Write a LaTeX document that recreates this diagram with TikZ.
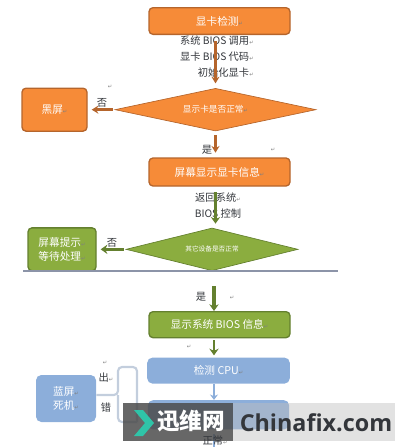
\documentclass[tikz,border=0pt]{standalone}
\usepackage{fontspec}
\setmainfont{Noto Sans CJK SC}
\newfontfamily\retfont{DejaVu Sans}
\newfontfamily\latinfont{Open Sans}
\usetikzlibrary{arrows.meta,positioning,shapes.geometric}
\definecolor{vorange}{HTML}{F68B38}
\definecolor{vbrown}{HTML}{B5652C}
\definecolor{vgreen}{HTML}{8BAD3F}
\definecolor{vdkgreen}{HTML}{64802F}
\definecolor{vblue}{HTML}{8CAEDA}
\definecolor{vink}{HTML}{33363B}
\definecolor{vrule}{HTML}{8C94A8}
\definecolor{vteal}{HTML}{2FC4A8}
\definecolor{vbrace}{HTML}{C3CEDD}
\newcommand{\retm}{{\retfont\fontsize{4}{4}\selectfont\textcolor{gray}{↵}}}
\tikzset{
  obox/.style={rectangle,fill=vorange,draw=vbrown,rounded corners=3pt,line width=1pt,text=white,align=center,font=\fontsize{8}{10}\selectfont,inner sep=0pt},
  gbox/.style={rectangle,fill=vgreen,draw=vdkgreen,rounded corners=3pt,line width=1pt,text=white,align=center,font=\fontsize{8}{10}\selectfont,inner sep=0pt},
  bbox/.style={rectangle,fill=vblue,rounded corners=4pt,text=white,align=center,font=\fontsize{8}{10}\selectfont,inner sep=0pt},
  odia/.style={diamond,shape aspect=4.7,fill=vorange,draw=vbrown,line width=0.5pt,text=white,font=\fontsize{6.5}{8}\selectfont,inner sep=0pt},
  gdia/.style={diamond,shape aspect=4,fill=vgreen,draw=vdkgreen,line width=0.5pt,text=white,font=\fontsize{5}{6}\selectfont,inner sep=0pt},
  oarr/.style={-{Stealth[length=5pt,width=6pt]},line width=2pt,draw=vbrown},
  garr/.style={-{Stealth[length=5pt,width=7pt]},line width=2.2pt,draw=vdkgreen},
  barr/.style={-{Stealth[length=4pt,width=6pt]},line width=2pt,draw=vblue},
  lbl/.style={text=vink,font=\fontsize{7.7}{12}\selectfont,inner sep=0pt},
  brc/.style={line width=1.6pt,draw=vbrace,rounded corners=3pt},
}
\begin{document}
\begin{tikzpicture}[x=0.75pt,y=-0.75pt]
  \useasboundingbox (0,0) rectangle (400,447);
  % main column
  \node[obox,minimum width=105.75pt,minimum height=20pt] (a) at (219.5,21) {显卡检测\retm};
  \node[odia,minimum width=150.75pt,minimum height=32pt,below=39.75pt of a,xshift=-3pt] (d1) {显示卡是否正常\retm};
  \node[obox,minimum width=105.75pt,minimum height=21pt,below=19.5pt of d1,xshift=3pt] (c) {屏幕显示显卡信息\retm};
  \node[gdia,minimum width=129pt,minimum height=32pt,below=30.75pt of c,xshift=-5.6pt] (d2) {其它设备是否正常};
  \node[gbox,minimum width=105.75pt,minimum height=19.5pt,below=30pt of d2,xshift=5.6pt] (e) {显示系统 BIOS 信息\retm};
  \node[bbox,minimum width=107pt,minimum height=19.5pt,below=14.25pt of e,xshift=-0.75pt] (f) {检测 CPU\retm};
  \node[bbox,minimum width=106pt,minimum height=22pt,below=12pt of f] (g) {};
  % side boxes
  \node[obox,minimum width=48.75pt,minimum height=32.25pt,left=20.25pt of d1] (hp) {黑屏\retm};
  \node[gbox,minimum width=51pt,minimum height=32.25pt,left=21.75pt of d2] (ts) {屏幕提示\retm\\等待处理\retm};
  \node[bbox,minimum width=45pt,minimum height=35.25pt] (lp) at (66,398.5) {蓝屏\retm\\死机\retm};
  % labels under the arrows
  \node[lbl,align=right,anchor=east] (t1) at (254,57) {系统 BIOS 调用\retm\\显卡 BIOS 代码\retm\\初始化显卡\retm};
  \node[lbl,align=center] (t2) at (218,205.5) {返回系统\retm\\BIOS 控制};
  % arrows
  \draw[oarr,shorten <=4.5pt,shorten >=3.5pt] (a.south -| d1.north) -- (d1.north);
  \draw[oarr,shorten <=1.5pt,shorten >=3pt] (d1.west) -- (hp.east);
  \draw[oarr,shorten <=3pt,shorten >=3.5pt] (d1.south) -- (d1.south |- c.north);
  \draw[garr,shorten <=4pt,shorten >=3pt] (c.south -| d1.south) -- (d1.south |- d2.north);
  \draw[garr,shorten <=1.5pt,shorten >=3pt] (d2.west) -- (ts.east);
  \coordinate (gt) at (214,286);
  \draw[garr,line width=3pt] (gt) -- (gt |- e.north);
  \draw[garr,shorten <=1.5pt,shorten >=1.5pt] (gt |- e.south) -- (gt |- f.north);
  \draw[barr] (gt |- f.south) -- (gt |- g.north);
  \coordinate (bt) at (214,434);
  \coordinate (bb) at (214,447);
  \draw[barr,-] (bt) -- (bb);
  % divider
  \coordinate (ln1) at (23,271);
  \coordinate (ln2) at (338,271);
  \draw[vrule,line width=0.9pt] (ln1) -- (ln2);
  % brace
  \coordinate (bm) at (118,395);
  \coordinate (bu) at (137,367);
  \coordinate (bd) at (137,422);
  \draw[brc] (lp.east |- bm) -- (bm) -- (bm |- bu) -- (bu) -- (bd);
  \draw[brc] (bm) -- (bm |- bd) -- (bd);
  % branch labels
  \node[lbl] (no1) at (102,103) {否};
  \node[lbl] (yes1) at (207,150) {是};
  \node[lbl] (no2) at (112,243) {否};
  \node[lbl] (yes2) at (201,297) {是};
  \node[lbl] (c1) at (106,378) {出\retm};
  \node[lbl] (c2) at (106,408) {错};
  % stray marks
  \node[inner sep=0pt] (m1) at (110,87) {\retm};
  \node[inner sep=0pt] (m2) at (273,150) {\retm};
  \node[inner sep=0pt] (m3) at (232,298) {\retm};
  \node[inner sep=0pt] (m4) at (189,347) {\retm};
  \node[inner sep=0pt] (m5) at (105,363) {\retm};
  % watermark
  \fill[black!70,opacity=0.85] (123,403) rectangle (233,441);
  \fill[black!25,opacity=0.45] (233,403) rectangle (395,441);
  \fill[vteal] (134,410) -- (143,410) -- (154,423) -- (143,436) -- (134,436) -- (145,423) -- cycle;
  \node[text=white,font=\fontsize{17}{18}\selectfont\bfseries,inner sep=0pt] (wm1) at (191,421) {迅维网};
  \node[text=vink,font=\latinfont\fontsize{17.5}{18}\selectfont\bfseries,inner sep=0pt] (wm2) at (316,423) {Chinafix.com};
  \node[lbl] (ok) at (215,441) {正常\retm};
\end{tikzpicture}
\end{document}
